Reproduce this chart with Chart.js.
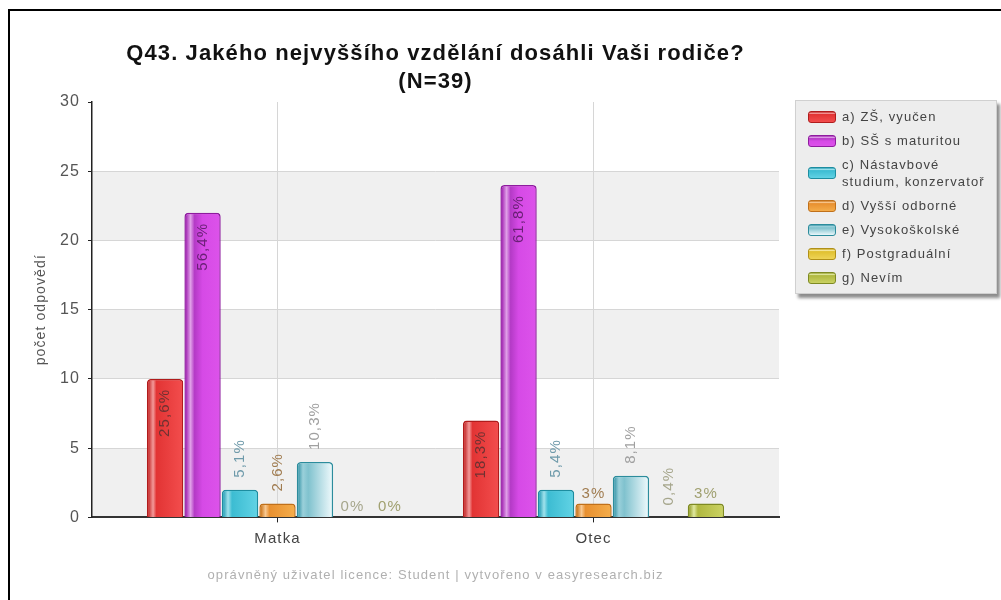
<!DOCTYPE html>
<html>
<head>
<meta charset="utf-8">
<script src="https://cdn.jsdelivr.net/npm/chart.js@4.4.1/dist/chart.umd.min.js"></script>
<style>
body { margin: 0; background: #fff; font-family: "Liberation Sans", Arial, sans-serif; }
#wrap { position: relative; width: 1001px; height: 600px; overflow: hidden; }
#frame { position: absolute; left: 8px; top: 9px; right: -10px; bottom: -10px; border-left: 2px solid #000; border-top: 2px solid #000; }
#legend { position: absolute; left: 795px; top: 100px; width: 202px; box-sizing: border-box; padding: 7px 0 7px 12px;
  background: #ededed; border: 1px solid #d0d0d0; box-shadow: 3px 4px 3px rgba(0,0,0,.45); }
.item { display: flex; align-items: center; margin-bottom: 7px; }
.item:last-child { margin-bottom: 0; }
.sw { width: 28px; height: 12px; border-radius: 3px; box-sizing: border-box; border: 1.5px solid; margin-right: 6px; flex: none; }
.tx { font-size: 13px; line-height: 17px; color: #444; letter-spacing: 1.1px; white-space: pre-line; }
</style>
</head>
<body>
<div id="wrap">
  <canvas id="chart" width="1001" height="600"></canvas>
  <div id="frame"></div>
  <div id="legend"></div>
</div>
<script>
// data
const categories = ['Matka', 'Otec'];
const seriesNames = ['a) ZŠ, vyučen', 'b) SŠ s maturitou', 'c) Nástavbové\nstudium, konzervatoř', 'd) Vyšší odborné', 'e) Vysokoškolské', 'f) Postgraduální', 'g) Nevím'];
const matkaCounts = [10, 22, 2, 1, 4, 0, 0];
const otecCounts = [7, 24, 2, 1, 3, 0, 1];
const matkaPct = ['25,6%', '56,4%', '5,1%', '2,6%', '10,3%', '0%', '0%'];
const otecPct = ['18,3%', '61,8%', '5,4%', '3%', '8,1%', '0,4%', '3%'];
const yTicks = [0, 5, 10, 15, 20, 25, 30];

// styles
const fills = ['#e23434', '#cf45de', '#47c3d6', '#efa03c', '#9ed3dd', '#e8c83c', '#b8c050'];
const borders = ['#b01c1c', '#8e1c9e', '#1d8da0', '#c0701a', '#2c8c9c', '#b09018', '#7e8a22'];
const labelColors = ['#6e3232', '#6a2076', '#6e9aaa', '#a07c50', '#a0a0a0', '#a6a68c', '#a0a070'];
const gradients = [
  [[0, '#c42c2c'], [0.14, '#f39a9a'], [0.24, '#e23434'], [1, '#f24c4c']],
  [[0, '#a42ab4'], [0.14, '#e0a0e8'], [0.26, '#b43ac6'], [0.5, '#d64ae6'], [1, '#dc52ea']],
  [[0, '#2aa0b8'], [0.14, '#a0e2ec'], [0.26, '#3cbcd2'], [1, '#60d2e4']],
  [[0, '#cc7820'], [0.14, '#f8c890'], [0.26, '#e89030'], [1, '#f4ac4a']],
  [[0, '#3c98aa'], [0.14, '#9ad0da'], [0.3, '#80c2ce'], [1, '#eaf7fa']],
  [[0, '#c8a820'], [0.14, '#f6e8a0'], [0.26, '#e0c030'], [1, '#eed456']],
  [[0, '#96a02e'], [0.14, '#e0e8a0'], [0.26, '#b0b840'], [1, '#cad262']]
];

const startOffset = 0.587;

Chart.defaults.font.family = '"Liberation Sans", Arial, sans-serif';

const datasets = seriesNames.map((name, i) => ({
  label: name,
  data: [matkaCounts[i], otecCounts[i]],
  pct: [matkaPct[i], otecPct[i]],
  backgroundColor: fills[i],
  borderColor: borders[i],
  borderWidth: 1.5,
  borderSkipped: 'bottom',
  borderRadius: { topLeft: 4, topRight: 4, bottomLeft: 0, bottomRight: 0 },
  categoryPercentage: 0.83,
  barPercentage: 0.97
}));

const bandsPlugin = {
  id: 'bands',
  beforeDraw(chart) {
    const ctx = chart.ctx;
    ctx.letterSpacing = '1.1px';
    const a = chart.chartArea;
    const y = chart.scales.y;
    ctx.save();
    ctx.fillStyle = '#f0f0f0';
    for (let k = 0; k < yTicks.length - 1; k += 2) {
      const top = y.getPixelForValue(yTicks[k + 1]);
      const bot = y.getPixelForValue(yTicks[k]);
      ctx.fillRect(a.left, top, a.right - a.left, bot - top);
    }
    ctx.restore();
  }
};

const barLabels = {
  id: 'barLabels',
  afterDatasetsDraw(chart) {
    const ctx = chart.ctx;
    chart.data.datasets.forEach((ds, di) => {
      const meta = chart.getDatasetMeta(di);
      meta.data.forEach((bar, i) => {
        const h = bar.base - bar.y;
        // glossy fill
        if (h > 2) {
          const l = bar.x - bar.width / 2 + 1.5;
          const w = bar.width - 3;
          const g = ctx.createLinearGradient(l, 0, l + w, 0);
          gradients[di].forEach(s => g.addColorStop(s[0], s[1]));
          ctx.save();
          ctx.fillStyle = g;
          ctx.beginPath();
          ctx.roundRect(l, bar.y + 1.5, w, h - 1.5, [3, 3, 0, 0]);
          ctx.fill();
          ctx.restore();
        }
        const txt = ds.pct[i];
        ctx.save();
        ctx.font = '15px "Liberation Sans", Arial, sans-serif';
        ctx.fillStyle = labelColors[di];
        const tw = ctx.measureText(txt).width;
        if (txt.length <= 2) {
          ctx.textAlign = 'center';
          ctx.textBaseline = 'alphabetic';
          ctx.fillText(txt, bar.x, bar.y - 6);
        } else if (h > tw + 20) {
          ctx.translate(bar.x, bar.y + 10);
          ctx.rotate(-Math.PI / 2);
          ctx.textAlign = 'right';
          ctx.textBaseline = 'middle';
          ctx.fillText(txt, 0, 0);
        } else {
          ctx.translate(bar.x, bar.y - 12);
          ctx.rotate(-Math.PI / 2);
          ctx.textAlign = 'left';
          ctx.textBaseline = 'middle';
          ctx.fillText(txt, 0, 0);
        }
        ctx.restore();
      });
    });
  }
};

const htmlLegend = {
  id: 'htmlLegend',
  afterUpdate(chart) {
    const box = document.getElementById('legend');
    box.innerHTML = '';
    chart.data.datasets.forEach((ds, i) => {
      const row = document.createElement('div');
      row.className = 'item';
      const sw = document.createElement('span');
      sw.className = 'sw';
      sw.style.borderColor = ds.borderColor;
      sw.style.background = 'linear-gradient(180deg,' + gradients[i].map(s => s[1] + ' ' + (s[0] * 100) + '%').join(',') + ')';
      const tx = document.createElement('span');
      tx.className = 'tx';
      tx.textContent = ds.label;
      row.appendChild(sw);
      row.appendChild(tx);
      box.appendChild(row);
    });
  }
};

new Chart(document.getElementById('chart'), {
  type: 'bar',
  data: { labels: categories, datasets: datasets },
  plugins: [bandsPlugin, barLabels, htmlLegend],
  options: {
    responsive: false,
    animation: false,
    layout: { padding: { left: 10, right: 222, top: 0, bottom: 0 } },
    plugins: {
      legend: { display: false },
      tooltip: { enabled: false },
      title: {
        display: true,
        fullSize: false,
        text: ['Q43. Jakého nejvyššího vzdělání dosáhli Vaši rodiče?', '(N=39)'],
        color: '#111',
        font: { size: 22, weight: 'bold', lineHeight: 1.273 },
        padding: { top: 40, bottom: 6 }
      },
      subtitle: {
        display: true,
        position: 'bottom',
        fullSize: false,
        text: 'oprávněný uživatel licence: Student | vytvořeno v easyresearch.biz',
        color: '#b0b0b0',
        font: { size: 13 },
        padding: { top: 20, bottom: 17 }
      }
    },
    scales: {
      x: {
        offset: true,
        grid: { offset: false, color: '#d6d6d6', tickLength: 5, tickColor: '#222' },
        border: { color: '#333', width: 2 },
        ticks: { color: '#444', font: { size: 15 }, padding: 7 },
        afterBuildTicks: s => {
          s._startValue = -startOffset;
          s._valueRange = categories.length - 1 + 2 * startOffset;
        },
        afterFit: s => { s.height = 30; }
      },
      y: {
        min: yTicks[0],
        max: yTicks[yTicks.length - 1],
        ticks: { stepSize: yTicks[1] - yTicks[0], color: '#555', font: { size: 16 }, padding: 8 },
        grid: {
          color: c => (c.tick && c.tick.value === yTicks[yTicks.length - 1]) ? 'rgba(0,0,0,0)' : '#d6d6d6',
          tickLength: 4,
          tickColor: '#222'
        },
        border: { color: '#222', width: 1.5 },
        title: { display: true, text: 'počet odpovědí', color: '#555', font: { size: 14 }, padding: { top: 23, bottom: 0 } },
        afterFit: s => { s.width = 82; }
      }
    }
  }
});
</script>
</body>
</html>
